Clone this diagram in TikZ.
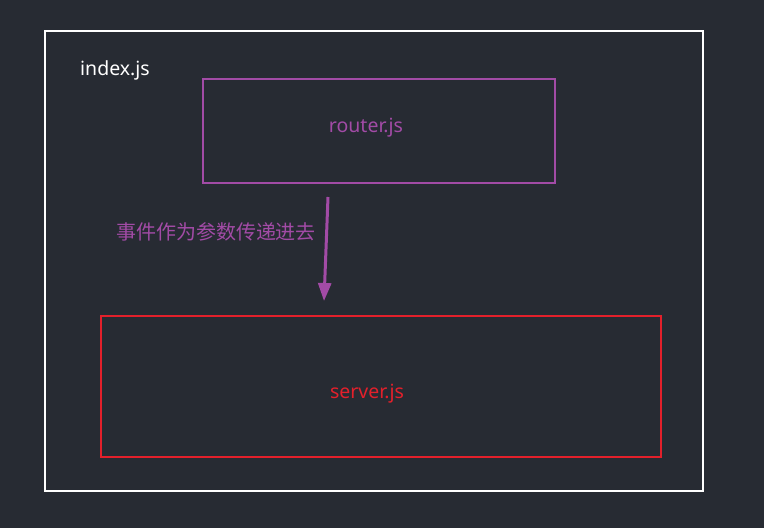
\documentclass[tikz,border=0pt]{standalone}
\usepackage{fontspec}
\setmainfont{Noto Sans}
\newfontfamily\cjkfont{Noto Sans CJK SC}
\usetikzlibrary{arrows.meta}
\definecolor{bgdark}{HTML}{272B33}
\definecolor{jspurple}{HTML}{A24BA6}
\definecolor{jsred}{HTML}{E3202B}

\begin{document}
\begin{tikzpicture}[x=1pt,y=-1pt,font=\fontsize{19.5}{22}\selectfont,
  filebox/.style={draw,line width=2.5pt,inner sep=0pt},
  filelabel/.style={inner sep=0pt,anchor=center}]
\fill[bgdark] (0,0) rectangle (764,528);
\useasboundingbox (0,0) rectangle (764,528);
% outer file and the two modules
\draw[filebox,white] (45,31) rectangle (703,491);
\node[filelabel,white,anchor=west] (index) at (80,70) {index.js};
\draw[filebox,jspurple] (203,79) rectangle (555,183);
\node[filelabel,text=jspurple] (router) at (366,128) {router.js};
\draw[filebox,jsred] (101,316) rectangle (661,457);
\node[filelabel,text=jsred] (server) at (367,394) {server.js};
% event passed down
\coordinate (passfrom) at (328,197);
\coordinate (passto) at (324,301);
\draw[jspurple,line width=3pt,-{Triangle[length=18pt,width=13pt]}] (passfrom) -- (passto);
\node[filelabel,text=jspurple,font=\cjkfont\fontsize{20}{23}\selectfont] (passlabel) at (216,232) {事件作为参数传递进去};
\end{tikzpicture}
\end{document}
